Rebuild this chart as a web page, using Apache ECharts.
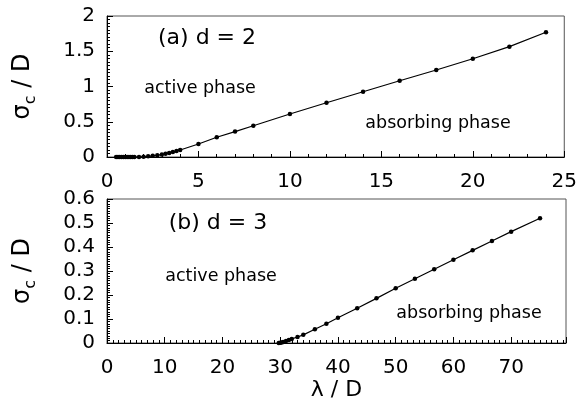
<!DOCTYPE html>
<html>
<head>
<meta charset="utf-8">
<script src="https://cdn.jsdelivr.net/npm/echarts@6/dist/echarts.min.js"></script>
<style>html,body{margin:0;padding:0;background:#fff;}#c{width:580px;height:411px;}</style>
</head>
<body>
<div id="c"></div>
<script>
// Panel (a) d = 2
const lambdaA = [0.5,0.6,0.7,0.8,0.9,1.0,1.1,1.2,1.3,1.4,1.5,1.75,2.0,2.25,2.5,2.75,3.0,3.2,3.4,3.6,3.8,4.0,5,6,7,8,10,12,14,16,18,20,22,24];
const sigmaA  = [0,0,0,0,0,0,0,0,0,0,0,0.001,0.004,0.009,0.016,0.025,0.036,0.047,0.058,0.07,0.085,0.1,0.184,0.28,0.36,0.444,0.61,0.77,0.926,1.082,1.234,1.394,1.565,1.769];
// Panel (b) d = 3
const lambdaB = [29.75,30,30.25,30.5,31,31.5,32,33,34,36,38,40,43.33,46.67,50,53.33,56.67,60,63.33,66.67,70,75];
const sigmaB  = [0,0.001,0.002,0.004,0.008,0.012,0.017,0.025,0.034,0.057,0.08,0.105,0.145,0.186,0.228,0.268,0.307,0.347,0.386,0.425,0.464,0.52];

const xTicksA = {min:0, max:25, interval:5};
const yTicksA = {min:0, max:2, interval:0.5};
const xTicksB = {min:0, max:79.5, interval:10};
const yTicksB = {min:0, max:0.6, interval:0.1};

const FONT = 'DejaVu Sans, Liberation Sans, Arial, sans-serif';
const pairs = (xs, ys) => xs.map((x,i)=>[x, ys[i]]);

function xAxis(idx, t, name){
  return {
    type:'value', gridIndex:idx, min:t.min, max:t.max, interval:t.interval,
    axisLine:{show:true, onZero:false, lineStyle:{color:'#000', width:1}},
    axisTick:{show:true, inside:true, length:6, lineStyle:{color:'#000'}},
    minorTick:{show:true, splitNumber: idx===0?5:10, length:3, lineStyle:{color:'#000'}},
    splitLine:{show:false},
    axisLabel:{color:'#000', fontSize:20, fontFamily:FONT, margin:15, showMaxLabel: idx===0},
    name:name||'', nameLocation:'middle', nameGap:28,
    nameTextStyle:{color:'#000', fontSize:22, fontFamily:FONT}
  };
}
function yAxis(idx, t){
  return {
    type:'value', gridIndex:idx, min:t.min, max:t.max, interval:t.interval,
    axisLine:{show:true, lineStyle:{color:'#000', width:1}},
    axisTick:{show:true, inside:true, length:6, lineStyle:{color:'#000'}},
    minorTick:{show:true, splitNumber:10, length:3, lineStyle:{color:'#000'}},
    splitLine:{show:false},
    axisLabel:{color:'#000', fontSize:20, fontFamily:FONT, margin:12},
    name:'{m|σ}{s|c}{m| / D}', nameLocation:'middle', nameGap:72,
    nameTextStyle:{color:'#000', fontFamily:FONT,
      rich:{
        m:{fontSize:24, lineHeight:24, verticalAlign:'top', fontFamily:FONT, color:'#000'},
        s:{fontSize:16, lineHeight:16, padding:[12,0,0,0], verticalAlign:'top', fontFamily:FONT, color:'#000'}
      }}
  };
}
function series(idx, data){
  return {
    type:'line', xAxisIndex:idx, yAxisIndex:idx, data:data,
    symbol:'circle', symbolSize:4.5, showSymbol:true,
    lineStyle:{color:'#000', width:1.2},
    itemStyle:{color:'#000'},
    animation:false
  };
}
function txt(x, y, s, size){
  return {type:'text', x:x, y:y, style:{text:s, fontSize:size, fontFamily:FONT, fill:'#000', textAlign:'center', textVerticalAlign:'middle'}};
}

const chart = echarts.init(document.getElementById('c'), null, {renderer:'canvas'});
chart.setOption({
  animation:false,
  backgroundColor:'#fff',
  grid:[
    {left:107, top:16, width:459, height:141, show:true, borderColor:'#555', borderWidth:1},
    {left:107, top:199, width:459, height:144, show:true, borderColor:'#555', borderWidth:1}
  ],
  xAxis:[xAxis(0, xTicksA), xAxis(1, xTicksB, 'λ / D')],
  yAxis:[yAxis(0, yTicksA), yAxis(1, yTicksB)],
  series:[series(0, pairs(lambdaA, sigmaA)), series(1, pairs(lambdaB, sigmaB))],
  graphic:[
    txt(207, 38, '(a) d = 2', 22),
    txt(200, 88, 'active phase', 17.5),
    txt(438, 123, 'absorbing phase', 17.5),
    txt(218, 223, '(b) d = 3', 22),
    txt(221, 276, 'active phase', 17.5),
    txt(469, 313, 'absorbing phase', 17.5)
  ]
});
</script>
</body>
</html>
